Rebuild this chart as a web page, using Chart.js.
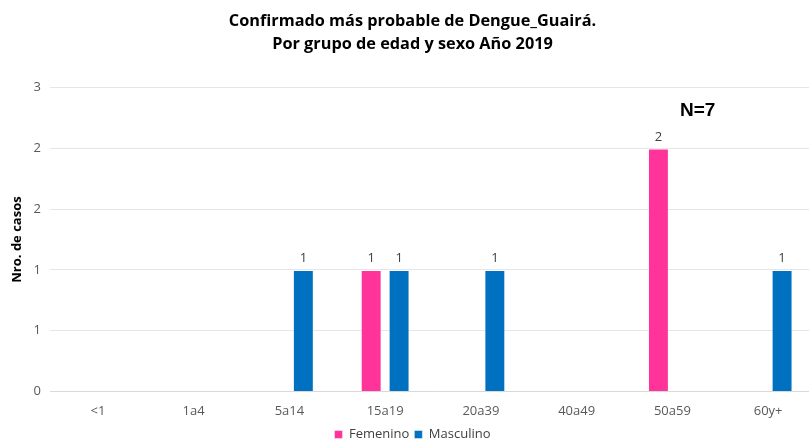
<!DOCTYPE html>
<html>
<head>
<meta charset="utf-8">
<script src="https://cdn.jsdelivr.net/npm/chart.js@4"></script>
<style>
  html, body { margin: 0; padding: 0; background: #fff; overflow: hidden; }
  #wrap { width: 816px; height: 443px; position: relative; }
</style>
</head>
<body>
<div id="wrap"><canvas id="dengueChart"></canvas></div>
<script>
/* Dengue Guairá 2019 - casos por grupo de edad y sexo */

const grupos = ['<1', '1a4', '5a14', '15a19', '20a39', '40a49', '50a59', '60y+'];
const femenino = [0, 0, 0, 1, 0, 0, 2, 0];
const masculino = [0, 0, 1, 1, 1, 0, 0, 1];
const totalCasos = 'N=7';

// values on top of the bars
const barLabels = {
  id: 'barLabels',
  afterDatasetsDraw(chart) {
    const ctx = chart.ctx;
    ctx.save();
    ctx.font = '13px "Open Sans"';
    ctx.fillStyle = '#404040';
    ctx.textAlign = 'center';
    ctx.textBaseline = 'bottom';
    chart.data.datasets.forEach((ds, i) => {
      chart.getDatasetMeta(i).data.forEach((bar, j) => {
        if (!ds.data[j]) return;
        ctx.fillText(ds.data[j], bar.x, bar.y - 5);
      });
    });
    ctx.restore();
  }
};

// N=7 note
const nLabel = {
  id: 'nLabel',
  afterDraw(chart) {
    const ctx = chart.ctx;
    const area = chart.chartArea;
    ctx.save();
    ctx.font = 'bold 19px "Liberation Sans"';
    ctx.fillStyle = '#000';
    ctx.textAlign = 'left';
    ctx.textBaseline = 'middle';
    ctx.fillText(totalCasos, 680, area.top + 23);
    ctx.restore();
  }
};

const config = {
  type: 'bar',
  data: {
    labels: grupos,
    datasets: [{
      label: 'Femenino',
      data: femenino,
      backgroundColor: '#FF3399',
      borderColor: 'rgba(255,255,255,0.45)',
      borderWidth: 1
    }, {
      label: 'Masculino',
      data: masculino,
      backgroundColor: '#0070C0',
      borderColor: 'rgba(255,255,255,0.45)',
      borderWidth: 1
    }]
  },
  options: {
    responsive: true,
    maintainAspectRatio: false,
    animation: false,
    categoryPercentage: 0.583,
    barPercentage: 0.75,
    layout: {
      padding: { left: 9, right: 0, top: 6, bottom: -8 }
    },
    plugins: {
      title: {
        display: true,
        text: ['Confirmado más probable de Dengue_Guairá.', 'Por grupo de edad y sexo Año 2019'],
        color: '#000',
        font: { family: '"Open Sans"', size: 16.3, weight: 'bold', lineHeight: 1.4 },
        padding: { top: 4, bottom: 32 }
      },
      legend: {
        position: 'bottom',
        labels: {
          boxWidth: 8,
          boxHeight: 8,
          color: '#404040',
          font: { family: '"Open Sans"', size: 13 },
          padding: 5
        }
      },
      tooltip: { enabled: false }
    },
    scales: {
      x: {
        grid: { display: false },
        border: { color: '#d9d9d9' },
        ticks: {
          color: '#595959',
          font: { family: '"Open Sans"', size: 13 },
          padding: 4
        }
      },
      y: {
        min: 0,
        max: 2.5,
        grid: { color: '#e6e6e6', drawTicks: false },
        border: { display: false },
        ticks: {
          stepSize: 0.5,
          color: '#595959',
          font: { family: '"Open Sans"', size: 13 },
          padding: 9,
          callback: (v) => Math.round(v)
        },
        title: {
          display: true,
          text: 'Nro. de casos',
          color: '#000',
          font: { family: '"Open Sans"', size: 13, weight: 'bold' },
          padding: { top: 0, bottom: 0 }
        }
      }
    }
  },
  plugins: [barLabels, nLabel]
};

new Chart(document.getElementById('dengueChart'), config);
</script>
</body>
</html>
